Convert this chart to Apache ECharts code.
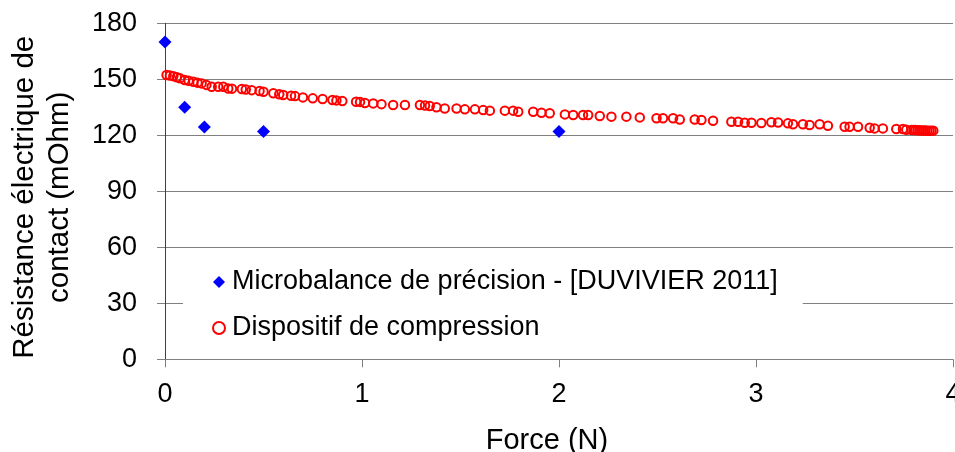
<!DOCTYPE html>
<html><head><meta charset="utf-8">
<script src="https://cdn.jsdelivr.net/npm/echarts@6/dist/echarts.min.js"></script>
<style>html,body{margin:0;padding:0;background:#fff}#c{width:955px;height:452px}</style>
</head><body><div id="c"></div>
<script>
const xTicks = [0, 1, 2, 3, 4];
const yTicks = [0, 30, 60, 90, 120, 150, 180];
const seriesNames = ['Microbalance de précision - [DUVIVIER 2011]', 'Dispositif de compression'];
const xAxisTitle = 'Force (N)';
const yAxisTitle = 'Résistance électrique de\ncontact (mOhm)';

const microForce = [0, 0.1, 0.2, 0.5, 2];
const microRes = [170, 135, 124.5, 122, 122];

const compForce = [0.008,0.025,0.042,0.06,0.076,0.10,0.12,0.144,0.165,0.186,0.21,0.237,0.27,0.296,0.321,0.34,0.39,0.41,0.44,0.48,0.50,0.55,0.58,0.60,0.64,0.66,0.70,0.75,0.80,0.85,0.87,0.90,0.97,0.99,
1.015,1.057,1.099,1.158,1.218,1.294,1.32,1.344,1.378,1.42,1.48,1.522,1.573,1.615,1.649,1.725,1.767,1.793,1.869,1.911,1.953,
2.03,2.072,2.122,2.148,2.207,2.266,2.342,2.41,2.495,2.528,2.579,2.613,2.689,2.723,2.782,2.875,2.909,2.943,2.977,3.027,
3.078,3.112,3.162,3.188,3.238,3.272,3.323,3.365,3.45,3.475,3.518,3.577,3.602,3.644,3.712,3.746,3.763,
3.79,3.80,3.81,3.82,3.83,3.84,3.85,3.86,3.87,3.88,3.89,3.90];
const compRes = [152.3,152.0,151.7,151.1,150.5,149.6,149.2,148.7,148.2,147.8,147.0,146.0,146.0,146.0,145.1,145.0,144.8,144.5,144.2,143.7,143.3,142.5,142.0,141.6,141.2,141.0,140.3,139.8,139.4,138.9,138.7,138.4,138.0,137.9,
137.3,137.1,136.7,136.2,136.2,136.2,136.0,135.7,135.0,134.4,134.4,133.9,133.9,133.5,133.2,133.2,133.2,132.6,132.6,132.1,131.8,
131.2,130.9,130.9,130.9,130.3,130.0,130.0,129.6,129.1,129.1,129.1,128.5,128.5,128.2,127.8,127.3,127.3,126.7,126.7,126.6,
127.0,126.9,126.4,125.9,125.9,125.5,125.9,125.1,124.6,124.6,124.6,124.0,123.7,123.7,123.4,123.4,123.0,
122.9,122.8,122.8,122.7,122.7,122.6,122.6,122.6,122.5,122.5,122.5,122.5];

const font = 'Liberation Sans, Arial, sans-serif';
const chart = echarts.init(document.getElementById('c'), null, {renderer: 'canvas'});
chart.setOption({
  animation: false,
  backgroundColor: '#fff',
  grid: {left: 165, right: 2, top: 23.3, bottom: 92.7, containLabel: false, outerBoundsMode: 'none'},
  xAxis: {
    type: 'value', min: xTicks[0], max: xTicks[xTicks.length - 1], interval: 1,
    name: xAxisTitle, nameLocation: 'middle', nameGap: 67,
    nameTextStyle: {fontFamily: font, fontSize: 29, color: '#000', padding: [0, 24, 0, 0]},
    axisLine: {show: true, onZero: false, lineStyle: {color: '#808080', width: 1}},
    axisTick: {show: true, inside: false, length: 8, lineStyle: {color: '#808080'}},
    axisLabel: {fontFamily: font, fontSize: 27, color: '#000', margin: 22, showMaxLabel: true, hideOverlap: false},
    splitLine: {show: false}
  },
  yAxis: {
    type: 'value', min: yTicks[0], max: yTicks[yTicks.length - 1], interval: 30,
    name: yAxisTitle, nameLocation: 'middle', nameGap: 88, nameRotate: 90,
    nameTextStyle: {fontFamily: font, fontSize: 29.5, color: '#000', lineHeight: 35, padding: [0, 12, 0, 0]},
    axisLine: {show: true, lineStyle: {color: '#404040', width: 1}},
    axisTick: {show: true, inside: false, length: 8, lineStyle: {color: '#808080'}},
    axisLabel: {fontFamily: font, fontSize: 27, color: '#000', margin: 28},
    splitLine: {show: true, lineStyle: {color: '#808080', width: 1}}
  },
  legend: {
    orient: 'vertical', left: 183, top: 259,
    backgroundColor: '#fff',
    padding: [8, 25, 10, 29],
    itemGap: 16, itemWidth: 12, itemHeight: 12,
    textStyle: {fontFamily: font, fontSize: 27, color: '#000', lineHeight: 30, padding: [0, 0, 0, 2]},
    data: [
      {name: seriesNames[0], icon: 'diamond'},
      {name: seriesNames[1], icon: 'circle'}
    ]
  },
  series: [
    {
      name: seriesNames[1], type: 'scatter', symbol: 'circle', symbolSize: 8.5,
      itemStyle: {color: 'rgba(255,255,255,0)', borderColor: '#ff0000', borderWidth: 2, opacity: 1},
      data: compForce.map((f, i) => [f, compRes[i]]), z: 2
    },
    {
      name: seriesNames[0], type: 'scatter', symbol: 'diamond', symbolSize: 13,
      itemStyle: {color: '#0000ff', opacity: 1},
      data: microForce.map((f, i) => [f, microRes[i]]), z: 3
    }
  ]
});
</script></body></html>
